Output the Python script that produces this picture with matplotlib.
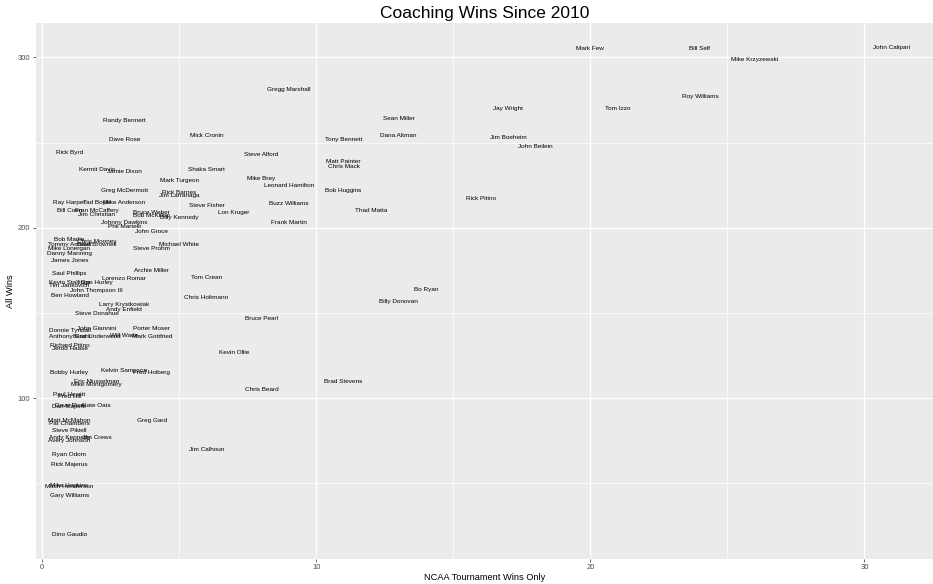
import numpy as np
import matplotlib
matplotlib.use("Agg")
import matplotlib.pyplot as plt

# coach name, NCAA tournament wins, all wins
coaches = [
    "John Calipari", "Mark Few", "Bill Self", "Mike Krzyzewski", "Roy Williams",
    "Tom Izzo", "Jay Wright", "Jim Boeheim", "John Beilein", "Rick Pitino",
    "Gregg Marshall", "Sean Miller", "Tony Bennett", "Dana Altman", "Matt Painter",
    "Chris Mack", "Bob Huggins", "Thad Matta", "Bo Ryan", "Billy Donovan",
    "Brad Stevens", "Mick Cronin", "Steve Alford", "Shaka Smart", "Mark Turgeon",
    "Mike Brey", "Leonard Hamilton", "Rick Barnes", "Jim Larranaga", "Steve Fisher",
    "Lon Kruger", "Buzz Williams", "Frank Martin", "Billy Kennedy", "Michael White",
    "Steve Prohm", "Tom Crean", "Chris Holtmann", "Bruce Pearl", "Kevin Ollie",
    "Chris Beard", "Jim Calhoun", "Randy Bennett", "Dave Rose", "Rick Byrd",
    "Kermit Davis", "Jamie Dixon", "Greg McDermott", "Mike Anderson", "Ray Harper",
    "Tad Boyle", "Bill Coen", "Fran McCaffery", "Jim Christian", "Bruce Weber",
    "Bob McKillop", "Johnny Dawkins", "Phil Martelli", "John Groce", "Bob Marlin",
    "Chris Mooney", "Tommy Amaker", "Brad Brownell", "Mike Lonergan", "Danny Manning",
    "James Jones", "Saul Phillips", "Archie Miller", "Lorenzo Romar", "Kevin Stallings",
    "Tim Jankovich", "Dan Hurley", "John Thompson III", "Ben Howland", "Larry Krystkowiak",
    "Andy Enfield", "Steve Donahue", "John Giannini", "Donnie Tyndall", "Porter Moser",
    "Will Wade", "Mark Gottfried", "Anthony Grant", "Brad Underwood", "Richard Pitino",
    "Jerod Haase", "Bobby Hurley", "Kelvin Sampson", "Fred Hoiberg", "Eric Musselman",
    "Mike Montgomery", "Paul Hewitt", "Fred Hill", "Dave Rice", "Nate Oats",
    "Dan Majerle", "Matt McMahon", "Greg Gard", "Pat Chambers", "Steve Pikiell",
    "Andy Kennedy", "Jim Crews", "Avery Johnson", "Ryan Odom", "Rick Majerus",
    "Mike Hopkins", "Mitch Henderson", "Gary Williams", "Dino Gaudio",
]
ncaa_wins = [
    31, 20, 24, 26, 24,
    21, 17, 17, 18, 16,
    9, 13, 11, 13, 11,
    11, 11, 12, 14, 13,
    11, 6, 8, 6, 5,
    8, 9, 5, 5, 6,
    7, 9, 9, 5, 5,
    4, 6, 6, 8, 7,
    8, 6, 3, 3, 1,
    2, 3, 3, 3, 1,
    2, 1, 2, 2, 4,
    4, 3, 3, 4, 1,
    2, 1, 2, 1, 1,
    1, 1, 4, 3, 1,
    1, 2, 2, 1, 3,
    3, 2, 2, 1, 4,
    3, 4, 1, 2, 1,
    1, 1, 3, 4, 2,
    2, 1, 1, 1, 2,
    1, 1, 4, 1, 1,
    1, 2, 1, 1, 1,
    1, 1, 1, 1,
]
all_wins = [
    306, 305, 305, 299, 277,
    270, 270, 253, 248, 217,
    281, 264, 252, 254, 239,
    236, 222, 210, 164, 157,
    110, 254, 243, 234, 228,
    229, 225, 221, 219, 213,
    209, 214, 203, 206, 190,
    188, 171, 159, 147, 127,
    105, 70, 263, 252, 244,
    234, 233, 222, 215, 215,
    215, 210, 210, 208, 209,
    207, 203, 201, 198, 193,
    192, 190, 190, 188, 185,
    181, 173, 175, 170, 168,
    166, 168, 163, 160, 155,
    152, 150, 141, 140, 141,
    137, 136, 136, 136, 131,
    129, 115, 116, 115, 110,
    108, 102, 101, 96, 96,
    95, 87, 87, 85, 81,
    77, 77, 75, 67, 61,
    49, 48, 43, 20,
]

fig = plt.figure(figsize=(9.33, 5.84), dpi=100)
ax = fig.add_axes([0.0386, 0.043, 0.9614, 0.917])

ax.set_facecolor("#EBEBEB")
for s in ax.spines.values():
    s.set_visible(False)

for name, x, y in zip(coaches, ncaa_wins, all_wins):
    ax.text(x, y, name, ha="center", va="center", fontsize=4.6,
            family="Liberation Sans", color="black")

ax.set_xlim(-0.22, 32.5)
ax.set_ylim(5.7, 320)
ax.set_xticks([0, 10, 20, 30])
ax.set_yticks([100, 200, 300])
ax.set_xticks([5, 15, 25], minor=True)
ax.set_yticks([50, 150, 250], minor=True)
ax.grid(which="major", color="white", linewidth=1.0)
ax.grid(which="minor", color="white", linewidth=0.5)
ax.set_axisbelow(True)
ax.tick_params(which="major", length=2.5, width=0.5, color="#333333",
               labelsize=5.5, labelcolor="#4D4D4D", pad=1.5)
ax.tick_params(which="minor", length=0)
for lab in ax.get_xticklabels() + ax.get_yticklabels():
    lab.set_family("Liberation Sans")

ax.set_xlabel("NCAA Tournament Wins Only", fontsize=6.7,
              family="Liberation Sans", labelpad=1)
ax.set_ylabel("All Wins", fontsize=6.7, family="Liberation Sans", labelpad=2)
ax.set_title("Coaching Wins Since 2010", fontsize=12.5,
             family="Liberation Sans", pad=4)

fig.savefig("out.png", dpi=100)
